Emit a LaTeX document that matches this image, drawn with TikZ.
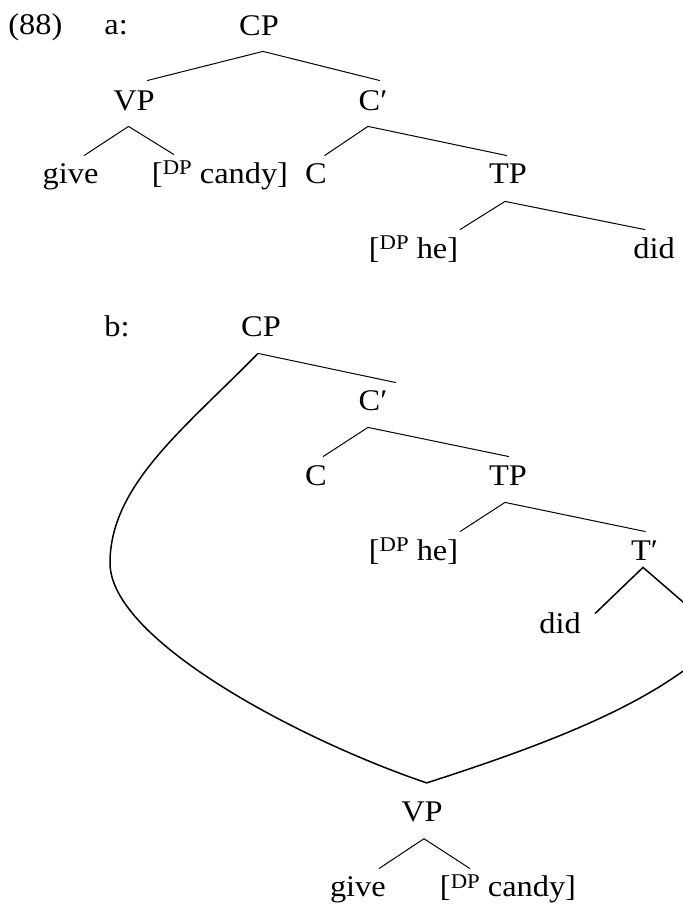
\documentclass[tikz,border=0pt]{standalone}
\usepackage{fontspec}
\setmainfont[FakeStretch=1.08]{Liberation Serif}
\usetikzlibrary{calc}
\newcommand{\dpx}{\raisebox{4.2pt}{\fontsize{10.5}{12}\selectfont DP}}
\begin{document}
\begin{tikzpicture}[x=0.5pt,y=-0.5pt,
  lab/.style={anchor=base, inner xsep=0pt, inner ysep=3.5pt, text height=10pt, text depth=4.5pt, font=\fontsize{15}{18}\selectfont},
  edge/.style={line width=0.5pt},
  move/.style={line width=0.75pt}]
\useasboundingbox (0,0) rectangle (683,905);
\clip (0,0) rectangle (683,905);
% ---------- (88) a ----------
\node[lab, anchor=base west] (ex) at (8,34) {(88)};
\node[lab, anchor=base west] (la) at (104,34) {a:};
\node[lab] (aCP) at (259,35) {CP};
\node[lab] (aVP) at (134,110) {VP};
\node[lab] (aCb) at (373,110) {C′};
\node[lab] (agive) at (70.5,183) {give};
\node[lab] (acandy) at (220,183) {[\dpx{} candy]};
\node[lab] (aC) at (316,183) {C};
\node[lab] (aTP) at (508,183) {TP};
\node[lab] (ahe) at (413.5,258) {[\dpx{} he]};
\node[lab] (adid) at (654,258) {did};
\draw[edge] ($(aVP.north)+(13,-2)$) -- ($(aCP.south)+(4,0)$) -- ($(aCb.north)+(7,-2)$);
\draw[edge] ($(agive.north)+(13.5,0)$) -- ($(aVP.south)+(-5.5,0)$) -- ($(acandy.north)+(-46,-1)$);
\draw[edge] ($(aC.north)+(8.5,0)$) -- ($(aCb.south)+(-5,0)$) -- ($(aTP.north)+(-1,0)$);
\draw[edge] ($(ahe.north)+(46.5,-1)$) -- ($(aTP.south)+(-3,2)$) -- ($(adid.north)+(-9,-1)$);
% ---------- b ----------
\node[lab, anchor=base west] (lb) at (104,336) {b:};
\node[lab] (bCP) at (261,336) {CP};
\node[lab] (bCb) at (373,410) {C′};
\node[lab] (bC) at (316,485) {C};
\node[lab] (bTP) at (508,485) {TP};
\node[lab] (bhe) at (413.5,560) {[\dpx{} he]};
\node[lab] (bTb) at (644.6,560) {T′};
\node[lab] (bdid) at (560,633) {did};
\node[lab] (bVP) at (422,821.7) {VP};
\node[lab] (bgive) at (357.9,896.7) {give};
\node[lab] (bcandy) at (508,896.7) {[\dpx{} candy]};
\coordinate (tTop) at (712,627);
\coordinate (tBot) at (720,640);
\coordinate (lmost) at (110,563);
\draw[edge] ($(bCP.south)+(-3,1)$) -- ($(bCb.north)+(23,0)$);
\draw[edge] ($(bC.north)+(7,-1)$) -- ($(bCb.south)+(-5,1)$) -- ($(bTP.north)+(1,-1)$);
\draw[edge] ($(bhe.north)+(46.5,-1)$) -- ($(bTP.south)+(-3,1)$) -- ($(bTb.north)+(1,-1)$);
\draw[move] ($(bdid.north)+(35,8)$) -- ($(bTb.south)+(-1.6,-9)$) -- (tTop);
\draw[edge] ($(bgive.north)+(21,-0.7)$) -- ($(bVP.south)+(2,0.6)$) -- ($(bcandy.north)+(-38,-0.7)$);
\draw[move] ($(bCP.south)+(-3,1)$) .. controls (185,428) and (110,485) .. (lmost)
  .. controls (110,640) and (300,740) .. ($(bVP.north)+(4.7,-11.4)$)
  .. controls (560,740) and (660,700) .. (tBot);
\end{tikzpicture}
\end{document}
